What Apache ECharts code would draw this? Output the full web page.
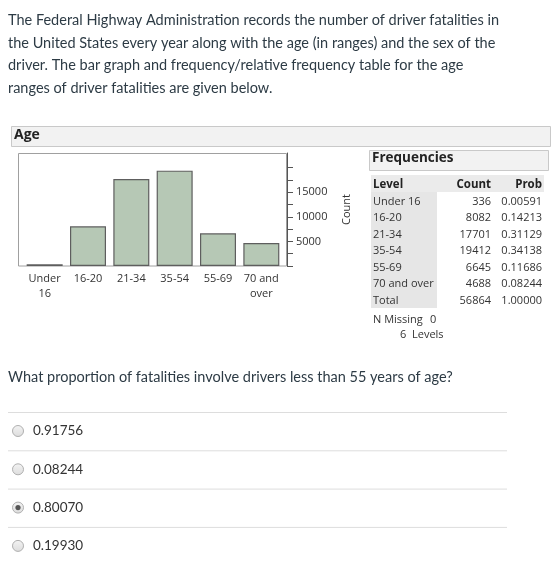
<!DOCTYPE html>
<html>
<head>
<meta charset="utf-8">
<script src="https://cdn.jsdelivr.net/npm/echarts@6/dist/echarts.min.js"></script>
<style>
  html, body { margin: 0; padding: 0; background: #fff; }
  #main { width: 560px; height: 583px; }
</style>
</head>
<body>
<div id="main"></div>
<script>
// data
const levels = ['Under 16', '16-20', '21-34', '35-54', '55-69', '70 and over']
const counts = [336, 8082, 17701, 19412, 6645, 4688]
const probs = ['0.00591', '0.14213', '0.31129', '0.34138', '0.11686', '0.08244']
const totalCount = 56864
const totalProb = '1.00000'
const nMissing = 0
const yTickValues = [0, 2500, 5000, 7500, 10000, 12500, 15000, 17500, 20000]
const yTickLabels = [5000, 10000, 15000]
const introLines = [
	'The Federal Highway Administration records the number of driver fatalities in',
	'the United States every year along with the age (in ranges) and the sex of the',
	'driver. The bar graph and frequency/relative frequency table for the age',
	'ranges of driver fatalities are given below.'
]
const question = 'What proportion of fatalities involve drivers less than 55 years of age?'
const answers = ['0.91756', '0.08244', '0.80070', '0.19930']
const picked = 2

const canvasFont = '"Lato", "Open Sans", sans-serif'
const jmpFont = '"Open Sans", "Noto Sans", sans-serif'

let myChart = echarts.init(document.getElementById('main'), null, { renderer: 'canvas' })

let graphics = []

// intro paragraph
introLines.forEach(function(line, i) {
	graphics.push({
		type: 'text', left: 8, top: 13 + i * 22.6,
		style: { text: line, font: '14.5px ' + canvasFont, fill: '#2d3b45' }
	})
})

// "Age" outline header
graphics.push({
	type: 'rect', shape: { x: 11.5, y: 126.5, width: 539, height: 20 },
	style: { fill: '#f2f2f2', stroke: '#c9c9c9', lineWidth: 1 }
})
graphics.push({
	type: 'text', left: 14, top: 128,
	style: { text: 'Age', font: 'bold 14px ' + jmpFont, fill: '#222' }
})

// plot frame
graphics.push({
	type: 'rect', z: 0, shape: { x: 18.5, y: 153.5, width: 268, height: 112.5 },
	style: { fill: 'none', stroke: '#a0a0a0', lineWidth: 1 }
})

// Frequencies header
graphics.push({
	type: 'rect', shape: { x: 369.5, y: 150.5, width: 179, height: 20 },
	style: { fill: '#f2f2f2', stroke: '#c9c9c9', lineWidth: 1 }
})
graphics.push({
	type: 'text', left: 372, top: 151,
	style: { text: 'Frequencies', font: 'bold 13.5px ' + jmpFont, fill: '#222' }
})

// table backgrounds
graphics.push({
	type: 'rect', shape: { x: 371, y: 175, width: 173, height: 17 },
	style: { fill: '#ebebeb' }
})
graphics.push({
	type: 'rect', shape: { x: 371, y: 192, width: 66, height: 116 },
	style: { fill: '#e6e6e6' }
})

// table header
let rowY = function(i) { return 185 + i * 16.5 }
graphics.push({ type: 'text', x: 373, y: rowY(0), style: { text: 'Level', font: 'bold 11.5px ' + jmpFont, fill: '#222', verticalAlign: 'middle' } })
graphics.push({ type: 'text', x: 491, y: rowY(0), style: { text: 'Count', font: 'bold 11.5px ' + jmpFont, fill: '#222', align: 'right', verticalAlign: 'middle' } })
graphics.push({ type: 'text', x: 542, y: rowY(0), style: { text: 'Prob', font: 'bold 11.5px ' + jmpFont, fill: '#222', align: 'right', verticalAlign: 'middle' } })

let tableRows = levels.map(function(l, i) { return [l, counts[i], probs[i]] })
tableRows.push(['Total', totalCount, totalProb])
tableRows.forEach(function(r, i) {
	let y = rowY(i + 1)
	graphics.push({ type: 'text', x: 373, y: y, style: { text: r[0], font: '11px ' + jmpFont, fill: '#333', verticalAlign: 'middle' } })
	graphics.push({ type: 'text', x: 491, y: y, style: { text: String(r[1]), font: '11px ' + jmpFont, fill: '#333', align: 'right', verticalAlign: 'middle' } })
	graphics.push({ type: 'text', x: 542, y: y, style: { text: r[2], font: '11px ' + jmpFont, fill: '#333', align: 'right', verticalAlign: 'middle' } })
})
graphics.push({ type: 'text', x: 373, y: 320, style: { text: 'N Missing', font: '11px ' + jmpFont, fill: '#333', verticalAlign: 'middle' } })
graphics.push({ type: 'text', x: 430, y: 320, style: { text: String(nMissing), font: '11px ' + jmpFont, fill: '#333', verticalAlign: 'middle' } })
graphics.push({ type: 'text', x: 400, y: 335, style: { text: levels.length + '  Levels', font: '11px ' + jmpFont, fill: '#333', verticalAlign: 'middle' } })

// question
graphics.push({
	type: 'text', left: 8, top: 370,
	style: { text: question, font: '14.5px ' + canvasFont, fill: '#2d3b45' }
})

// answers with radio buttons
answers.forEach(function(a, i) {
	let top = 412 + i * 38.3
	graphics.push({
		type: 'line', shape: { x1: 8, y1: top + 0.5, x2: 507, y2: top + 0.5 },
		style: { stroke: '#dddddd', lineWidth: 1 }
	})
	let cy = top + 19
	graphics.push({
		type: 'circle', shape: { cx: 18, cy: cy, r: 5.5 },
		style: {
			fill: new echarts.graphic.LinearGradient(0, 0, 0, 1, [
				{ offset: 0, color: '#f4f4f4' }, { offset: 1, color: '#dcdcdc' }
			]),
			stroke: '#b0b0b0', lineWidth: 1
		}
	})
	if (i === picked) {
		graphics.push({
			type: 'circle', shape: { cx: 18, cy: cy, r: 2.6 },
			style: { fill: '#555' }
		})
	}
	graphics.push({
		type: 'text', x: 33, y: cy,
		style: { text: a, font: '13.5px ' + canvasFont, fill: '#333', verticalAlign: 'middle' }
	})
})

let option = {
	animation: false,
	backgroundColor: '#fff',
	grid: { left: 23, top: 153, width: 260, height: 113 },
	xAxis: {
		type: 'category',
		data: levels,
		axisLine: { show: false },
		axisTick: { show: false },
		axisLabel: {
			interval: 0,
			margin: 5,
			color: '#333',
			fontFamily: jmpFont,
			fontSize: 11,
			lineHeight: 15,
			formatter: function(v) { return v.replace(/ (\S+)$/, '\n$1') }
		}
	},
	yAxis: {
		type: 'value',
		position: 'right',
		offset: 4,
		min: 0,
		max: 23000,
		interval: 2500,
		name: 'Count',
		nameLocation: 'middle',
		nameRotate: 90,
		nameGap: 54,
		nameTextStyle: { color: '#333', fontFamily: jmpFont, fontSize: 11 },
		axisLine: { show: true, lineStyle: { color: '#555', width: 1 } },
		axisTick: { show: true, length: 6, customValues: yTickValues, lineStyle: { color: '#555' } },
		axisLabel: {
			margin: 9,
			color: '#333',
			fontFamily: jmpFont,
			fontSize: 11,
			customValues: yTickLabels,
			formatter: function(v) { return String(v) }
		},
		splitLine: { show: false }
	},
	series: [{
		type: 'bar',
		data: counts,
		barWidth: 36,
		itemStyle: { color: '#b6c8b5', borderColor: '#5e5e5e', borderWidth: 1.2 }
	}],
	graphic: graphics
}
myChart.setOption(option)
</script>
</body>
</html>
